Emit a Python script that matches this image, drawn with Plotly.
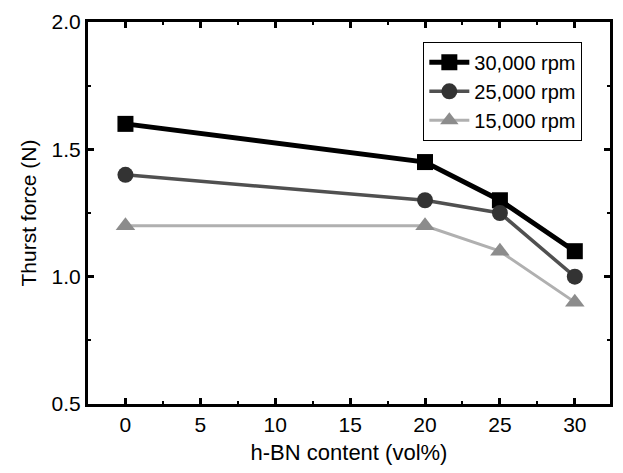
import plotly.graph_objects as go

hbn_content = [0, 20, 25, 30]
rpm_30000 = [1.6, 1.45, 1.3, 1.1]
rpm_25000 = [1.4, 1.3, 1.25, 1.0]
rpm_15000 = [1.2, 1.2, 1.1, 0.9]
series_names = ["30,000 rpm", "25,000 rpm", "15,000 rpm"]

fig = go.Figure()
fig.add_trace(go.Scatter(x=hbn_content, y=rpm_30000, name=series_names[0], mode="lines+markers",
                         line=dict(color="black", width=5),
                         marker=dict(symbol="square", size=16, color="black")))
fig.add_trace(go.Scatter(x=hbn_content, y=rpm_25000, name=series_names[1], mode="lines+markers",
                         line=dict(color="#505050", width=3.5),
                         marker=dict(symbol="circle", size=16, color="#333333")))
fig.add_trace(go.Scatter(x=hbn_content, y=rpm_15000, name=series_names[2], mode="lines+markers",
                         line=dict(color="#b0b0b0", width=3),
                         marker=dict(symbol="triangle-up", size=17, color="#8c8c8c")))

font = "Liberation Sans, Arial, sans-serif"
fig.update_layout(
    width=623, height=473,
    margin=dict(l=88, r=10, t=18, b=69),
    paper_bgcolor="white", plot_bgcolor="white",
    font=dict(family=font, color="black", size=21),
    showlegend=True,
    legend=dict(x=0.947, y=0.948, xanchor="right", yanchor="top",
                bordercolor="black", borderwidth=1, bgcolor="white",
                font=dict(size=20), itemwidth=40, tracegroupgap=0),
    xaxis=dict(range=[-2.5, 32.35], tickvals=[0, 5, 10, 15, 20, 25, 30],
               ticks="inside", ticklen=6, tickwidth=3, tickcolor="black",
               minor=dict(ticks="inside", dtick=2.5, tick0=0, ticklen=3, tickwidth=2, tickcolor="black"),
               showline=True, linewidth=3, linecolor="black", mirror="ticks",
               showgrid=False, zeroline=False,
               title=dict(text="h-BN content (vol%)", font=dict(size=22), standoff=10)),
    yaxis=dict(range=[0.5, 2.0], tickvals=[0.5, 1.0, 1.5, 2.0], tickformat=".1f",
               ticks="inside", ticklen=6, tickwidth=3, tickcolor="black",
               minor=dict(ticks="inside", dtick=0.25, tick0=0.5, ticklen=3, tickwidth=2, tickcolor="black"),
               showline=True, linewidth=3, linecolor="black", mirror="ticks",
               showgrid=False, zeroline=False,
               title=dict(text="Thurst force (N)", font=dict(size=21), standoff=10)),
)
fig.write_html("out.html")
